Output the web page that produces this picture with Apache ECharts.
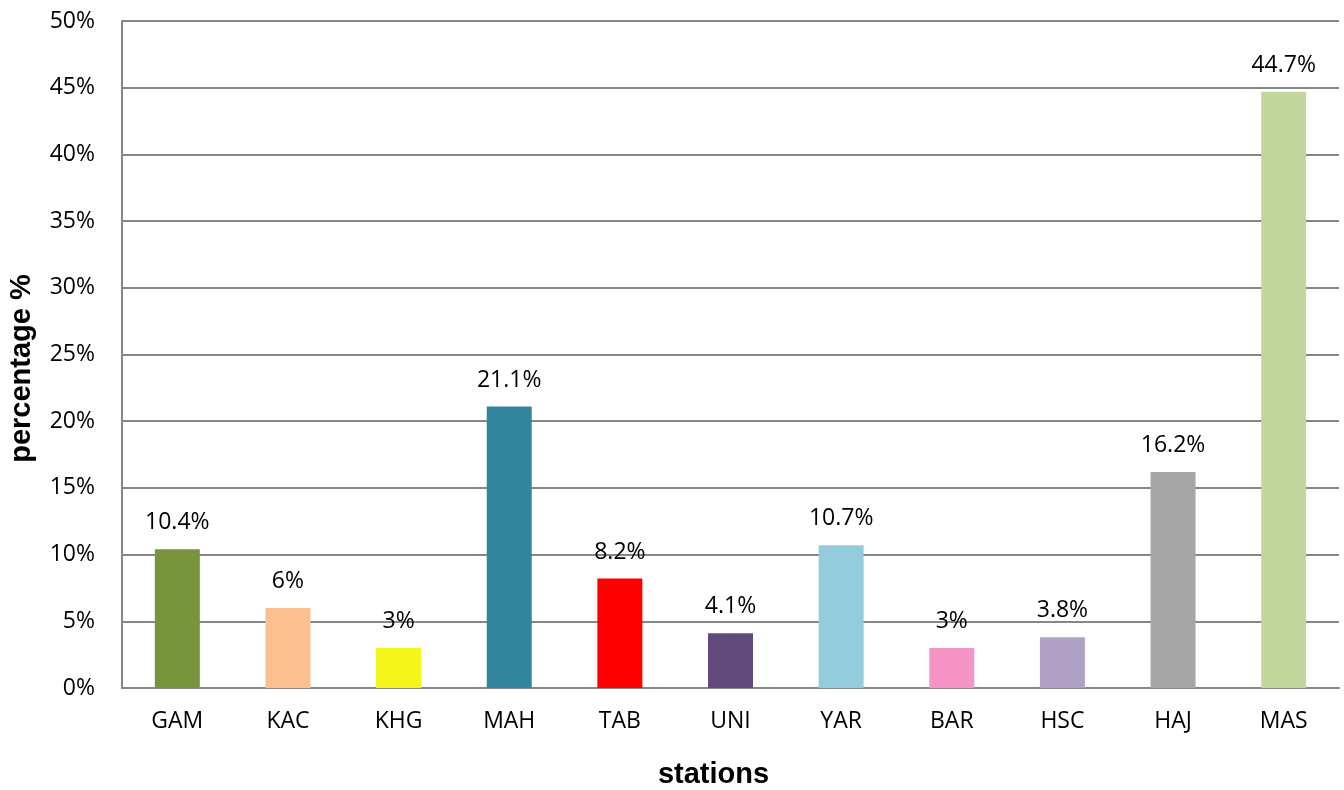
<!DOCTYPE html>
<html>
<head>
<meta charset="utf-8">
<script src="https://cdn.jsdelivr.net/npm/echarts@6/dist/echarts.min.js"></script>
<style>
  html, body { margin: 0; padding: 0; background: #fff; }
  #chart { width: 1344px; height: 790px; }
</style>
</head>
<body>
<div id="chart"></div>
<script>
// Share of records per station (%)
const stations = ['GAM', 'KAC', 'KHG', 'MAH', 'TAB', 'UNI', 'YAR', 'BAR', 'HSC', 'HAJ', 'MAS'];
const percentages = [10.4, 6, 3, 21.1, 8.2, 4.1, 10.7, 3, 3.8, 16.2, 44.7];
const barColors = ['#77933C', '#FAC090', '#F4F518', '#31869E', '#FF0000', '#604A7B',
                   '#93CDDD', '#F794C6', '#B2A1C7', '#A6A6A6', '#C3D69B'];

const labelFont = '"Open Sans", "Liberation Sans", sans-serif';
const titleFont = '"Liberation Sans", Arial, sans-serif';

const chart = echarts.init(document.getElementById('chart'), null, { renderer: 'canvas' });
chart.setOption({
  animation: false,
  grid: { left: 122, right: 5, top: 21, bottom: 102, containLabel: false, outerBoundsMode: 'none' },
  xAxis: {
    type: 'category',
    data: stations,
    name: 'stations',
    nameLocation: 'middle',
    nameGap: 72,
    nameTextStyle: { fontFamily: titleFont, fontWeight: 'bold', fontSize: 29, color: '#000', padding: [0, 34, 0, 0] },
    axisLine: { lineStyle: { color: '#868686', width: 2 } },
    axisTick: { show: false },
    axisLabel: { fontFamily: labelFont, fontSize: 23, color: '#000', margin: 22 }
  },
  yAxis: {
    type: 'value',
    min: 0,
    max: 50,
    interval: 5,
    name: 'percentage %',
    nameLocation: 'middle',
    nameGap: 86,
    nameTextStyle: { fontFamily: titleFont, fontWeight: 'bold', fontSize: 29, color: '#000', padding: [0, 28, 0, 0] },
    axisLine: { show: true, lineStyle: { color: '#868686', width: 2 } },
    axisTick: { show: false },
    splitLine: { lineStyle: { color: '#868686', width: 2 } },
    axisLabel: { fontFamily: labelFont, fontSize: 23, color: '#000', margin: 27, formatter: '{value}%' }
  },
  series: [{
    type: 'bar',
    data: percentages.map((v, i) => ({ value: v, itemStyle: { color: barColors[i] } })),
    barWidth: 45,
    label: {
      show: true,
      position: 'top',
      distance: 15,
      fontFamily: labelFont,
      fontSize: 23,
      color: '#000',
      formatter: p => p.value + '%'
    }
  }]
});
</script>
</body>
</html>
